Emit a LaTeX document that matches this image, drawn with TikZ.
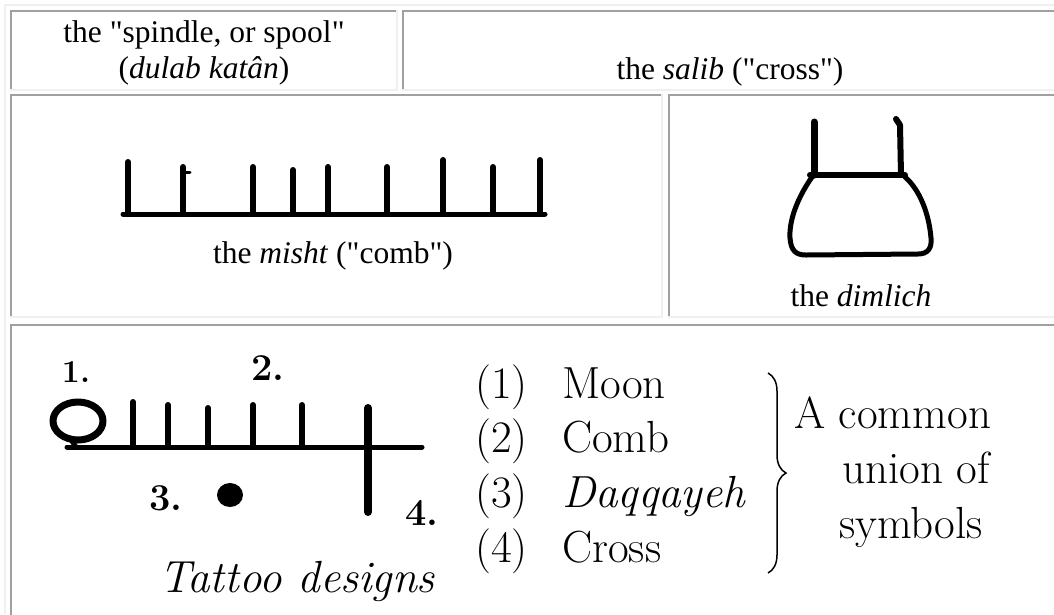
\documentclass[tikz,border=0pt]{standalone}
\usepackage{fontspec}
\newfontfamily\htmlfont{Liberation Serif}
\usepackage{xcolor}
\usetikzlibrary{decorations.pathreplacing}

\definecolor{edgedark}{HTML}{A0A0A0}
\definecolor{edgelight}{HTML}{F0F0F0}

\begin{document}
\begin{tikzpicture}[x=1pt, y=-1pt,
    caption/.style={font=\htmlfont\fontsize{31.5}{36}\selectfont, inner sep=0pt, anchor=base},
    scan/.style={font=\fontsize{45}{55}\selectfont, inner sep=0pt, anchor=base west},
    digit/.style={font=\bfseries\fontsize{38}{38}\selectfont, inner sep=0pt},
    darkedge/.style={draw=edgedark, line width=2pt},
    lightedge/.style={draw=edgelight, line width=2pt},
    ink/.style={draw=black, line width=6pt, line cap=round, line join=round}]

    \useasboundingbox (0,0) rectangle (1054,614);
    \clip (0,0) rectangle (1054,614);
    \fill[white] (0,0) rectangle (1054,614);

    % Table frame and cells
    \draw[lightedge] (5,614) -- (5,5) -- (1054,5);
    \foreach \xa/\ya/\xb/\yb in {10/10/398/91, 402/10/1070/91, 10/94/663/318, 668/94/1070/318, 10/324/1070/640} {
        \draw[darkedge] (\xa+1,\yb) -- (\xa+1,\ya+1) -- (\xb,\ya+1);
        \draw[lightedge] (\xb-1,\ya) -- (\xb-1,\yb-1) -- (\xa,\yb-1);
    }

    % Row 1: spindle and salib
    \node [caption] (spindle) at (204,42) {the "spindle, or spool"};
    \node [caption] (dulab) at (204,78) {(\textit{dulab katân})};
    \node [caption] (salib) at (730,79) {the \textit{salib} ("cross")};

    % Row 2: misht (comb)
    \draw[ink, line width=5pt] (123,214) -- (545,214);
    \foreach \tx/\ty in {128/162, 183/167, 253/167, 293/170, 328/167, 387/167, 443/160, 493/167, 540/160}
        \draw[ink] (\tx,\ty) -- (\tx,214);
    \draw[ink, line width=3pt] (183,172) -- (190,172);
    \node [caption] (misht) at (333,263) {the \textit{misht} ("comb")};

    % Row 2: dimlich
    \draw[ink, line width=7pt] (814,122) -- (814,175);
    \draw[ink, line width=6pt] (896,119) -- (900,125) -- (901,175);
    \draw[ink] (810,175) -- (905,175);
    \draw[ink, line width=5pt] (812,177) .. controls (796,200) and (789,222) .. (790,238)
        .. controls (791,251) and (796,255) .. (806,255) -- (918,254)
        .. controls (928,254) and (932,248) .. (931,238)
        .. controls (929,214) and (920,190) .. (905,177);
    \node [caption] (dimlich) at (861,306) {the \textit{dimlich}};

    % Row 3: tattoo designs
    \node [digit, font=\bfseries\fontsize{32}{32}\selectfont] (one) at (76,372) {1.};
    \node [digit] (two) at (268,368) {2.};
    \node [digit] (three) at (166,498) {3.};
    \node [digit] (four) at (422,513) {4.};
    \draw[ink, line width=7pt] (78,421) ellipse [x radius=25, y radius=19];
    \draw[ink, line width=5pt] (70,438) -- (76,447);
    \draw[ink, line width=5pt] (67,447) -- (422,447);
    \foreach \tx/\ty in {133/402, 168/405, 208/408, 253/405, 302/405}
        \draw[ink] (\tx,\ty) -- (\tx,447);
    \draw[ink, line width=8pt] (368,408) -- (368,512);
    \fill (230,495) ellipse [x radius=13, y radius=12];
    \node [scan, anchor=base, font=\itshape\fontsize{45}{45}\selectfont] (tattoo) at (297,592) {Tattoo designs};

    % Row 3: list of symbols
    \node [scan] (n1) at (475,398) {(1)};
    \node [scan] (moon) at (562,398) {Moon};
    \node [scan] (n2) at (475,452) {(2)};
    \node [scan] (comb) at (562,452) {Comb};
    \node [scan] (n3) at (475,507) {(3)};
    \node [scan] (daqqayeh) at (562,507) {\textit{Daqqayeh}};
    \node [scan] (n4) at (475,562) {(4)};
    \node [scan] (cross) at (562,562) {Cross};
    \draw[decorate, decoration={brace, amplitude=18pt}, line width=1.5pt] (768,373) -- (768,573);
    \node [scan] (common) at (794,428) {A common};
    \node [scan] (union) at (842,483) {union of};
    \node [scan] (symbols) at (839,538) {symbols};
\end{tikzpicture}
\end{document}
